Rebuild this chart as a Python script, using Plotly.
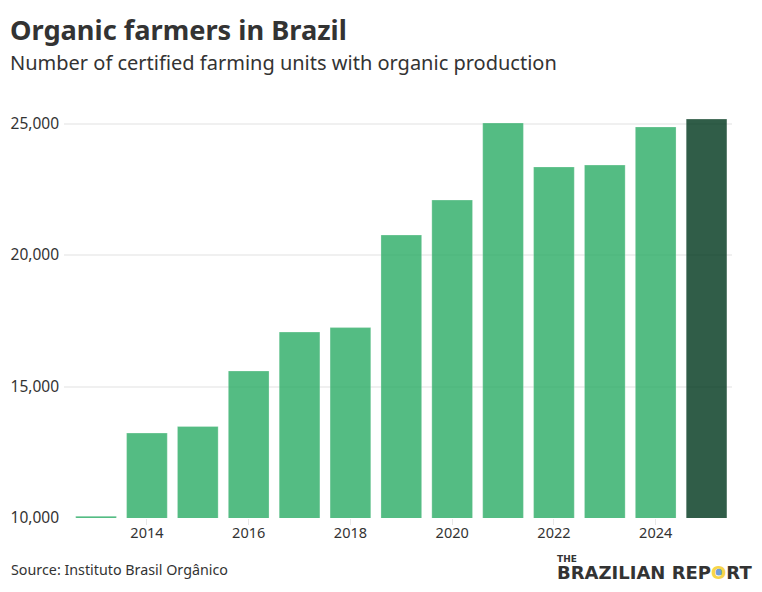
import plotly.graph_objects as go

years = list(range(2013, 2026))
farmers = [10070, 13230, 13480, 15590, 17070, 17240, 20760, 22090, 25020, 23350, 23420, 24870, 25170]
bar_colors = ['#2fae68'] * 12 + ['#033a20']
y_ticks = [10000, 15000, 20000, 25000]
x_ticks = [2014, 2016, 2018, 2020, 2022, 2024]

TEXT = '#333333'
FONT = 'Noto Sans'

W, H = 762, 592
L, R, T, B = 64, 30, 100, 74


# paper coordinates from page pixels
def px_x(v):
    return (v - L) / (W - L - R)


def px_y(v):
    return (H - B - v) / (H - T - B)


def label(text, x, y, size, family=FONT, anchor='left'):
    fig.add_annotation(text=text, x=px_x(x), y=px_y(y), xref='paper', yref='paper', xanchor=anchor,
                       yanchor='middle', showarrow=False, borderpad=0, borderwidth=0,
                       font=dict(size=size, color=TEXT, family=family))


def dot(cx, cy, r, color):
    fig.add_shape(type='circle', xref='paper', yref='paper', x0=px_x(cx - r), x1=px_x(cx + r),
                  y0=px_y(cy + r), y1=px_y(cy - r), fillcolor=color, line_width=0)


fig = go.Figure(go.Bar(x=years, y=farmers,
                       marker=dict(color=bar_colors, opacity=0.82,
                                   line=dict(width=1, color='rgba(255,255,255,0.25)')),
                       width=0.8))

fig.update_layout(
    width=W, height=H,
    margin=dict(l=L, r=R, t=T, b=B, autoexpand=False),
    plot_bgcolor='white', paper_bgcolor='white',
    showlegend=False,
    font=dict(family=FONT, color=TEXT),
    xaxis=dict(range=[2012.37, 2025.5], tickvals=x_ticks, ticks='outside', ticklen=6, tickwidth=1,
               tickcolor='#e8e8e8', showgrid=False, showline=False, zeroline=False,
               ticklabelstandoff=-4, tickfont=dict(size=14.5, color=TEXT)),
    yaxis=dict(range=[10000, 25894], tickvals=y_ticks, tickformat=',d', showgrid=True,
               gridcolor='#f0f0f0', gridwidth=2, zeroline=False, showline=False, ticks='',
               ticklabelstandoff=4, tickfont=dict(size=15.5, color=TEXT)),
)

label('<b>Organic farmers in Brazil</b>', 10, 30, 27.2)
label('Number of certified farming units with organic production', 10, 63, 20)
label('Source: Instituto Brasil Orgânico', 11, 569, 14.3)
label('<b>THE</b>', 557, 559, 9, 'DejaVu Sans')
label('<b>BRAZILIAN REP<span style="color:#f7d54a">O</span>RT</b>', 752, 572, 18, 'DejaVu Sans', 'right')
dot(719, 572, 3.6, '#6f9fd8')

fig.write_html("out.html", config={'displayModeBar': False},
               post_script="document.body.style.margin = '0';")
